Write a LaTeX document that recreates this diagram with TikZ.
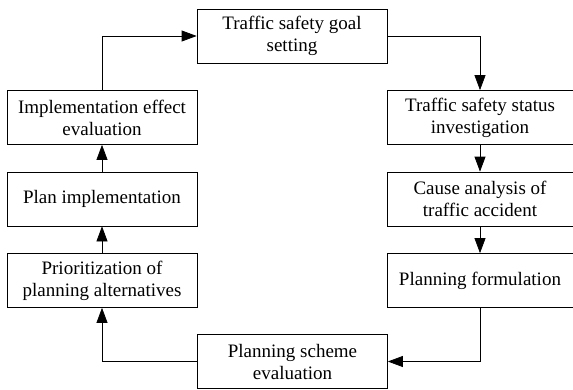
\documentclass[tikz,border=0pt]{standalone}
\usepackage{fontspec}
\setmainfont{Liberation Serif}
\usetikzlibrary{arrows.meta}

\begin{document}
\begin{tikzpicture}[x=1pt,y=1pt,
  stage/.style={draw,line width=0.75pt,minimum width=190pt,minimum height=54pt,inner sep=0pt,align=center,font=\fontsize{19}{22}\selectfont},
  flow/.style={line width=0.75pt,-{Triangle[length=15pt,width=11pt]}}]
\useasboundingbox (0,0) rectangle (573,389);
\node[stage] (goal) at (292,353) {Traffic safety goal\\setting};
\node[stage,minimum width=186pt] (status) at (480,271.5) {Traffic safety status\\investigation};
\node[stage,minimum width=186pt] (cause) at (480,190) {Cause analysis of\\traffic accident};
\node[stage,minimum width=186pt] (formulation) at (480,108.5) {Planning formulation};
\node[stage] (scheme) at (292.5,27.5) {Planning scheme\\evaluation};
\node[stage] (prior) at (102,108.5) {Prioritization of\\planning alternatives};
\node[stage] (impl) at (102,190) {Plan implementation};
\node[stage] (effect) at (102,271.5) {Implementation effect\\evaluation};
\draw[flow] (effect.north) |- (goal.west);
\draw[flow] (goal.east) -| (status.north);
\draw[flow] (status) -- (cause);
\draw[flow] (cause) -- (formulation);
\draw[flow] (formulation.south) |- (scheme.east);
\draw[flow] (scheme.west) -| (prior.south);
\draw[flow] (prior) -- (impl);
\draw[flow] (impl) -- (effect);
\end{tikzpicture}
\end{document}
